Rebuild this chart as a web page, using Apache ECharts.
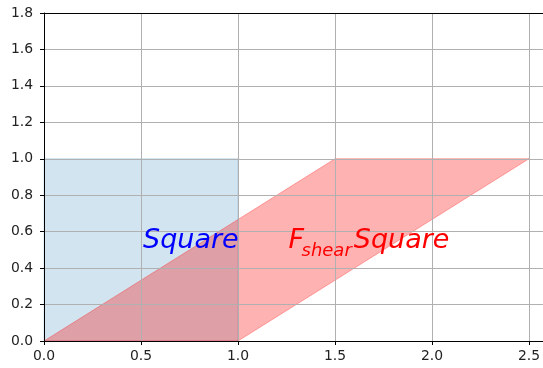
<!DOCTYPE html>
<html>
<head>
<meta charset="utf-8">
<script src="https://cdn.jsdelivr.net/npm/echarts@6/dist/echarts.min.js"></script>
<style>
html,body{margin:0;padding:0;background:#fff;}
#main{width:543px;height:368px;}
</style>
</head>
<body>
<div id="main"></div>
<script>
// Data
const squareX = [0, 1, 1, 0];
const squareY = [0, 0, 1, 1];
const shearX = [0, 1, 2.5, 1.5];
const shearY = [0, 0, 1, 1];
const labelSquarePos = [0.5, 0.5];
const labelShearPos = [1.25, 0.5];
const xTicks = [0, 0.5, 1.0, 1.5, 2.0, 2.5];
const yTicks = [0, 0.2, 0.4, 0.6, 0.8, 1.0, 1.2, 1.4, 1.6, 1.8];

const FONT = '"DejaVu Sans", sans-serif';
const MAIN_SIZE = 27;
const SUB_SIZE = 18;

const mc = document.createElement('canvas').getContext('2d');
function measure(text, size) {
  mc.font = 'italic ' + size + 'px ' + FONT;
  return mc.measureText(text).width;
}

const chart = echarts.init(document.getElementById('main'), null, {renderer: 'canvas'});

function polyItem(xs, ys, fill) {
  return function (params, api) {
    const pts = xs.map((x, i) => api.coord([x, ys[i]]));
    return {
      type: 'polygon',
      shape: {points: pts},
      style: {fill: fill, stroke: fill, lineWidth: 1}
    };
  };
}

function textEl(text, x, y, size, color) {
  return {
    type: 'text',
    x: x, y: y,
    style: {
      text: text,
      font: 'italic ' + size + 'px ' + FONT,
      fill: color,
      align: 'left',
      verticalAlign: 'middle'
    }
  };
}

const MID_OFF = 0.36;
const SUB_SHIFT = 7.5;
const LEAD = 2;

const axisCommon = {
  axisLine: {show: true, onZero: false, lineStyle: {color: '#000', width: 1}},
  axisTick: {show: true, length: 4, inside: false, lineStyle: {color: '#000', width: 1}},
  splitLine: {show: true, lineStyle: {color: '#b0b0b0', width: 1}}
};

const option = {
  animation: false,
  backgroundColor: '#fff',
  grid: {left: 44, top: 13, bottom: 27, right: 0, show: false},
  xAxis: [
    Object.assign({
      type: 'value', min: 0, max: 2.572, interval: 0.5, z: 3, position: 'bottom',
      axisLabel: {
        show: true, margin: 8, color: '#222', fontSize: 13.9, fontFamily: FONT,
        showMaxLabel: false,
        formatter: v => xTicks.some(t => Math.abs(t - v) < 1e-9) ? v.toFixed(1) : ''
      }
    }, axisCommon),
    {
      type: 'value', min: 0, max: 2.572, interval: 0.5, z: 3, position: 'top',
      axisLine: {show: true, onZero: false, lineStyle: {color: '#000', width: 1}},
      axisTick: {show: false}, axisLabel: {show: false}, splitLine: {show: false}
    }
  ],
  yAxis: Object.assign({
    type: 'value', min: 0, max: 1.8, interval: 0.2, z: 3,
    axisLabel: {
      show: true, margin: 11, color: '#222', fontSize: 13.9, fontFamily: FONT,
      formatter: v => yTicks.some(t => Math.abs(t - v) < 1e-9) ? v.toFixed(1) : ''
    }
  }, axisCommon),
  series: [
    {
      type: 'custom', z: 1, coordinateSystem: 'cartesian2d',
      data: [[0, 0]],
      renderItem: polyItem(squareX, squareY, 'rgba(31,119,180,0.2)')
    },
    {
      type: 'custom', z: 1, coordinateSystem: 'cartesian2d',
      data: [[0, 0]],
      renderItem: polyItem(shearX, shearY, 'rgba(255,0,0,0.3)')
    },
    {
      type: 'custom', z: 10, coordinateSystem: 'cartesian2d',
      data: [[0, 0]],
      renderItem: function (params, api) {
        const p1 = api.coord(labelSquarePos);
        const p2 = api.coord(labelShearPos);
        const wF = measure('F', MAIN_SIZE);
        const wSub = measure('shear', SUB_SIZE);
        const yMain = p2[1] + 0.5 - MID_OFF * MAIN_SIZE;
        return {
          type: 'group',
          children: [
            textEl('Square', p1[0] + LEAD, p1[1] + 0.5 - MID_OFF * MAIN_SIZE, MAIN_SIZE, '#0000ff'),
            textEl('F', p2[0] + LEAD, yMain, MAIN_SIZE, '#ff0000'),
            textEl('shear', p2[0] + wF - 0.5, p2[1] + SUB_SHIFT - MID_OFF * SUB_SIZE, SUB_SIZE, '#ff0000'),
            textEl('Square', p2[0] + wF + wSub + 1.5, yMain, MAIN_SIZE, '#ff0000')
          ]
        };
      }
    }
  ]
};
chart.setOption(option);
</script>
</body>
</html>
